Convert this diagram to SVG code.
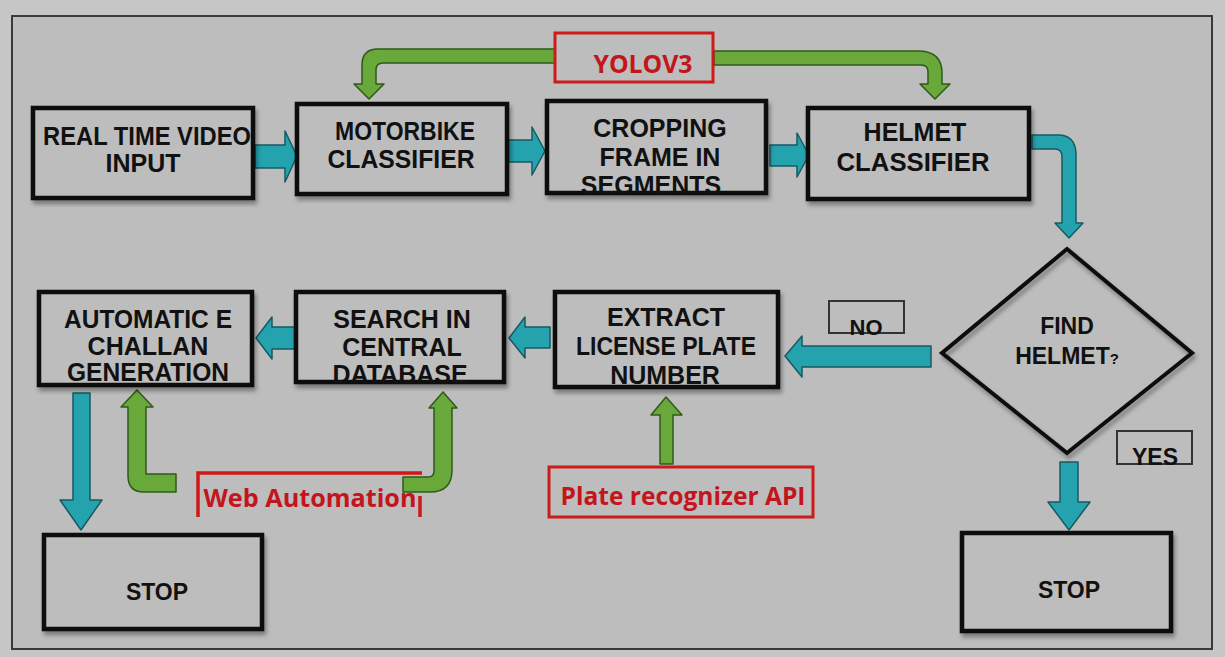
<svg xmlns="http://www.w3.org/2000/svg" width="1225" height="657" viewBox="0 0 1225 657">
<defs>
<style>
.box{fill:#bdbdbd;stroke:#0a0a0a;stroke-width:4.5;filter:url(#sh)}
.t{font-family:"Liberation Sans",Arial,sans-serif;font-weight:bold;font-size:25px;fill:#111;text-anchor:middle}
.s{font-size:23px}
.lab{fill:none;stroke:#333;stroke-width:2}
.teal{fill:#24a2ae;stroke:#175a62;stroke-width:1.5;stroke-linejoin:round}
.grn{fill:#69a83a;stroke:#2f5a18;stroke-width:1.5;stroke-linejoin:round}
.rbox{fill:#bdbdbd;stroke:#cf1a1a;stroke-width:3}
.rt{font-family:"Open Sans",Lato,sans-serif;font-weight:bold;font-size:25px;fill:#c3151c}
</style>
<filter id="sh" x="-10%" y="-10%" width="125%" height="130%">
<feDropShadow dx="2" dy="4" stdDeviation="2" flood-color="#000" flood-opacity="0.35"/>
</filter>
</defs>
<rect x="0" y="0" width="1225" height="657" fill="#c6c6c6"/>
<rect x="12" y="16" width="1200" height="633" fill="#bdbdbd" stroke="#3a3a3a" stroke-width="2"/>

<g id="connectors">
<path class="grn" d="M557,49 H378 Q362,49 362,65 V84 H354 L369,99 L384,84 H376 V70 Q376,63 383,63 H557 Z"/>
<path class="grn" d="M714,51 H918 Q942,51 942,73 V84 H950 L935,99 L920,84 H928 V72 Q928,65 921,65 H714 Z"/>
<path class="teal" d="M255,145 H285 V131 L297,156 L285,182 V168 H255 Z"/>
<path class="teal" d="M508,140 H532 V127 L545,151 L532,175 V162 H508 Z"/>
<path class="teal" d="M770,145 H797 V133 L809,155 L797,177 V166 H770 Z"/>
<path class="teal" d="M1032,135 H1058 Q1076,135 1076,155 V223 H1083 L1069,238 L1055,223 H1062 V157 Q1062,149 1055,149 H1032 Z"/>
<path class="teal" d="M931,346 H802 V336 L785,356 L802,377 V367 H931 Z"/>
<path class="teal" d="M550,327 H525 V317 L509,338 L525,358 V348 H550 Z"/>
<path class="teal" d="M296,327 H272 V317 L256,338 L272,359 V349 H296 Z"/>
<path class="teal" d="M73,393 H90 V500 H102 L81,530 L60,500 H73 Z"/>
<path class="teal" d="M1060,462 H1078 V502 H1090 L1069,530 L1048,502 H1060 Z"/>
<path class="grn" d="M666,397 L682,415 H673 V464 H660 V415 H651 Z"/>
<path fill="none" stroke="#d01818" stroke-width="3.5" d="M198,517 V473 H422 M420,496 V517"/>
<path class="grn" d="M137,390 L153,407 H146 V474 H176 V492 H144 Q128,492 128,476 V407 H121 Z"/>
<path class="grn" d="M443,392 L457,408 H452 V470 Q452,492 430,492 H403 V477 H428 Q434,477 434,471 V408 H429 Z"/>
</g>

<g id="yolov3">
<rect class="rbox" x="555" y="33" width="158" height="49"/>
<text class="rt" x="643" y="73" text-anchor="middle" textLength="99" lengthAdjust="spacingAndGlyphs">YOLOV3</text>
</g>

<g id="real-time">
<rect class="box" x="33" y="108" width="220" height="90"/>
<text class="t" x="147" y="145" textLength="208" lengthAdjust="spacingAndGlyphs">REAL TIME VIDEO</text>
<text class="t" x="143" y="172">INPUT</text>
</g>

<g id="motorbike">
<rect class="box" x="297" y="104" width="210" height="90"/>
<text class="t" x="405" y="140" textLength="140" lengthAdjust="spacingAndGlyphs">MOTORBIKE</text>
<text class="t" x="401" y="168" textLength="147" lengthAdjust="spacingAndGlyphs">CLASSIFIER</text>
</g>

<g id="cropping">
<rect class="box" x="547" y="101" width="219" height="92"/>
<text class="t" x="660" y="137">CROPPING</text>
<text class="t" x="660" y="166">FRAME IN</text>
<text class="t" x="651" y="194">SEGMENTS</text>
</g>

<g id="helmet-classifier">
<rect class="box" x="808" y="108" width="221" height="91"/>
<text class="t" x="915" y="141">HELMET</text>
<text class="t" x="913" y="171" textLength="153" lengthAdjust="spacingAndGlyphs">CLASSIFIER</text>
</g>

<g id="find-helmet">
<polygon points="1067,249 1192,353 1067,453 942,353" fill="none" stroke="#0a0a0a" stroke-width="4" stroke-linejoin="miter" filter="url(#sh)"/>
<text class="t" x="1067" y="334" style="font-size:23px">FIND</text>
<text class="t" x="1067" y="364" style="font-size:23px">HELMET<tspan style="font-size:15px">?</tspan></text>
</g>

<g id="no-label">
<rect class="lab" x="829" y="301" width="75" height="32"/>
<text class="t" x="866" y="335" style="font-size:22px">NO</text>
</g>

<g id="yes-label">
<rect class="lab" x="1117" y="431" width="75" height="33"/>
<text class="t" x="1155" y="465" style="font-size:23px">YES</text>
</g>

<g id="extract">
<rect class="box" x="555" y="292" width="223" height="95"/>
<text class="t" x="666" y="326">EXTRACT</text>
<text class="t" x="666" y="355" textLength="180" lengthAdjust="spacingAndGlyphs">LICENSE PLATE</text>
<text class="t" x="665" y="384">NUMBER</text>
</g>

<g id="search">
<rect class="box" x="296" y="292" width="208" height="90"/>
<text class="t" x="402" y="328">SEARCH IN</text>
<text class="t" x="402" y="356">CENTRAL</text>
<text class="t" x="400" y="383">DATABASE</text>
</g>

<g id="challan">
<rect class="box" x="39" y="292" width="213" height="93"/>
<text class="t" x="148" y="328" textLength="168" lengthAdjust="spacingAndGlyphs">AUTOMATIC E</text>
<text class="t" x="148" y="355">CHALLAN</text>
<text class="t" x="148" y="381" textLength="162" lengthAdjust="spacingAndGlyphs">GENERATION</text>
</g>

<g id="plate-api">
<rect class="rbox" x="549" y="467" width="264" height="50"/>
<text class="rt" x="683" y="505" text-anchor="middle" textLength="245" lengthAdjust="spacingAndGlyphs">Plate recognizer API</text>
</g>

<g id="web-automation">
<text class="rt" x="310" y="507" text-anchor="middle" textLength="213" lengthAdjust="spacingAndGlyphs">Web Automation</text>
</g>

<g id="stop-left">
<rect class="box" x="44" y="535" width="218" height="94"/>
<text class="t s" x="157" y="600">STOP</text>
</g>

<g id="stop-right">
<rect class="box" x="962" y="533" width="209" height="98"/>
<text class="t s" x="1069" y="598">STOP</text>
</g>
</svg>
